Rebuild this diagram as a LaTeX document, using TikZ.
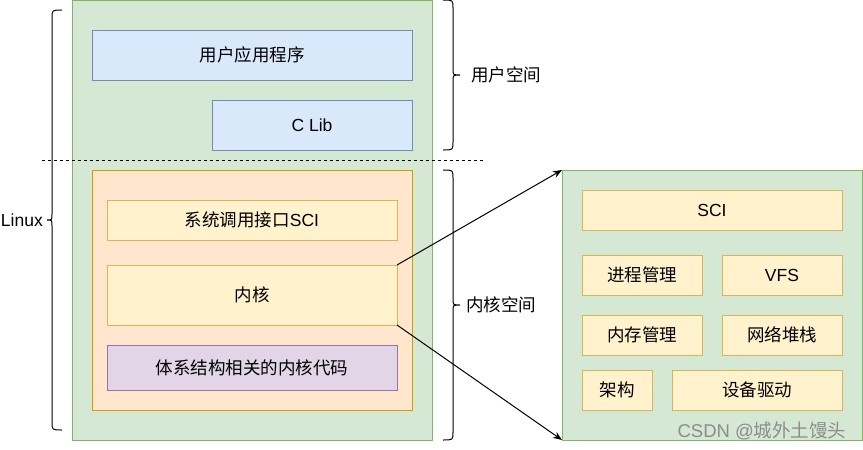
\documentclass[tikz,border=0pt]{standalone}
\usepackage{fontspec}
\setmainfont{Liberation Sans}
\newfontfamily\cjk{Noto Sans CJK SC}
\usetikzlibrary{arrows.meta}
\definecolor{gfill}{HTML}{D5E8D4}\definecolor{gline}{HTML}{82B366}
\definecolor{bfill}{HTML}{DAE8FC}\definecolor{bline}{HTML}{6C8EBF}
\definecolor{ofill}{HTML}{FFE6CC}\definecolor{oline}{HTML}{D79B00}
\definecolor{yfill}{HTML}{FFF2CC}\definecolor{yline}{HTML}{D6B656}
\definecolor{pfill}{HTML}{E1D5E7}\definecolor{pline}{HTML}{9673A6}
\tikzset{
  base/.style={rectangle, inner sep=0pt, outer sep=0pt, line width=1pt, font=\fontsize{17.5}{20}\selectfont, text=black},
  greenbox/.style={base, draw=gline, fill=gfill},
  bluebox/.style={base, draw=bline, fill=bfill},
  orangebox/.style={base, draw=oline, fill=ofill},
  yellowbox/.style={base, draw=yline, fill=yfill},
  purplebox/.style={base, draw=pline, fill=pfill},
  lbl/.style={inner sep=0pt, font=\fontsize{17.5}{20}\selectfont, text=black},
  brace/.style={line width=1pt, draw=black},
  conn/.style={line width=1pt, -{Stealth[length=9pt,width=7pt]}},
}
\begin{document}
\begin{tikzpicture}[x=1pt,y=-1pt]
\useasboundingbox (0,0) rectangle (863,450);
% left green container
\node[greenbox, minimum width=360, minimum height=440] (lg) at (252,220) {};
\node[bluebox, minimum width=320, minimum height=50] (app) at (252,55) {\cjk 用户应用程序};
\node[bluebox, minimum width=200, minimum height=50] (clib) at (312,125) {C Lib};
\node[orangebox, minimum width=320, minimum height=240] (ker) at (252,290) {};
\node[yellowbox, minimum width=290, minimum height=40] (sci) at (252,220) {{\cjk 系统调用接口}SCI};
\node[yellowbox, minimum width=290, minimum height=60] (kern) at (252,295) {\cjk 内核};
\node[purplebox, minimum width=290, minimum height=45] (arch) at (252,367.5) {\cjk 体系结构相关的内核代码};
% dashed separator
\coordinate (d1) at (42,160);
\coordinate (d2) at (483,160);
\draw[line width=1pt, dash pattern=on 3pt off 3pt] (d1) -- (d2);
% right green container
\node[greenbox, minimum width=300, minimum height=270] (rg) at (712,305) {};
\node[yellowbox, minimum width=260, minimum height=40] (rsci) at (712,210) {SCI};
\node[yellowbox, minimum width=120, minimum height=40] (proc) at (642,275) {\cjk 进程管理};
\node[yellowbox, minimum width=120, minimum height=40] (vfs) at (782,275) {VFS};
\node[yellowbox, minimum width=120, minimum height=40] (mem) at (642,335) {\cjk 内存管理};
\node[yellowbox, minimum width=120, minimum height=40] (net) at (782,335) {\cjk 网络堆栈};
\node[yellowbox, minimum width=70, minimum height=40] (rarch) at (617,390) {\cjk 架构};
\node[yellowbox, minimum width=170, minimum height=40] (drv) at (757,390) {\cjk 设备驱动};
% arrows
\draw[conn] (kern.north east) -- (rg.north west);
\draw[conn] (kern.south east) -- (rg.south west);
% braces
\draw[brace] (62,10) .. controls (52,10) .. (52,18) -- (52,214) .. controls (52,220) .. (47,220)
  .. controls (52,220) .. (52,226) -- (52,422) .. controls (52,430) .. (62,430);
\draw[brace] (443,0) .. controls (453,0) .. (453,8) -- (453,69) .. controls (453,75) .. (460,75)
  .. controls (453,75) .. (453,81) -- (453,142) .. controls (453,150) .. (443,150);
\draw[brace] (443,170) .. controls (453,170) .. (453,178) -- (453,299) .. controls (453,305) .. (460,305)
  .. controls (453,305) .. (453,311) -- (453,432) .. controls (453,440) .. (443,440);
% labels
\node[lbl, anchor=east] (linux) at (43,220) {Linux};
\node[lbl, anchor=west] (us) at (471,75) {\cjk 用户空间};
\node[lbl, anchor=west] (ks) at (466,305) {\cjk 内核空间};
\node[lbl, anchor=center, text=black!45, font=\fontsize{18.5}{20}\selectfont] (wm) at (762,431) {CSDN @{\cjk 城外土馒头}};
\end{tikzpicture}
\end{document}
